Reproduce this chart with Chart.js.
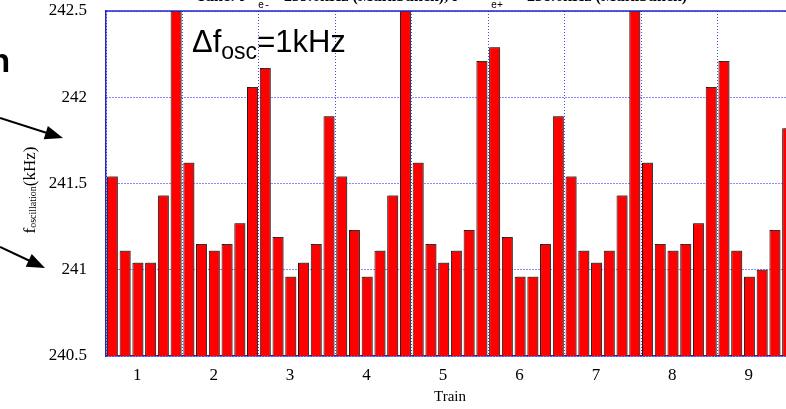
<!DOCTYPE html>
<html>
<head>
<meta charset="utf-8">
<script src="https://cdn.jsdelivr.net/npm/chart.js@4/dist/chart.umd.min.js"></script>
<style>
  html, body { margin: 0; padding: 0; background: #fff; overflow: hidden; width: 786px; height: 409px; }
  #wrap { position: absolute; left: 0; top: 0; width: 796px; height: 409px; }
  .note { position: absolute; white-space: nowrap; line-height: 1; color: #000; pointer-events: none; }
  .serif { font-family: 'Liberation Serif', 'Times New Roman', serif; }
  .sans { font-family: 'Liberation Sans', Arial, sans-serif; }
  .mono { font-family: 'Liberation Mono', 'Courier New', monospace; }
  svg { position: absolute; left: 0; top: 0; pointer-events: none; }
</style>
</head>
<body>
<div id="wrap"><canvas id="chart" width="796" height="409"></canvas></div>

<!-- slide heading, mostly above the visible area -->
<div class="note serif" style="left:196px; top:-12px; font-size:16px; font-weight:bold;">Tune: f</div>
<div class="note mono" style="left:258px; top:1px; font-size:10px;">e-</div>
<div class="note serif" style="left:271px; top:-12px; font-size:16px; font-weight:bold;">= 239.6kHz (Multibunch), f</div>
<div class="note mono" style="left:491px; top:1px; font-size:10px;">e+</div>
<div class="note serif" style="left:514px; top:-12px; font-size:16px; font-weight:bold;">= 238.6kHz (Multibunch)</div>

<div class="note sans" style="left:-10px; top:44px; font-size:33px; font-weight:bold;">n</div>

<div class="note sans" style="left:192px; top:26px; font-size:31px;">&Delta;f<span style="font-size:23px; position:relative; top:7px;">osc</span>=1kHz</div>

<div class="note serif" style="left:29px; top:190px; font-size:17px; transform: translate(-50%, -50%) rotate(-90deg);">f<span style="font-size:10px; position:relative; top:1px;">oscillation</span>(kHz)</div>

<svg width="786" height="409">
  <line x1="0" y1="118" x2="47" y2="133" stroke="#000" stroke-width="2"/>
  <polygon points="63,138 47.9,125.9 43.7,139.3" fill="#000"/>
  <line x1="0" y1="247" x2="30" y2="261" stroke="#000" stroke-width="2"/>
  <polygon points="45,268 31.7,254.1 25.7,266.7" fill="#000"/>
</svg>

<script>
// oscillation frequency (kHz) of each bunch, six bunches per train
const trains = ['1', '2', '3', '4', '5', '6', '7', '8', '9'];
const train1 = [241.54, 241.11, 241.04, 241.04, 241.43, 242.5];
const train2 = [241.62, 241.15, 241.11, 241.15, 241.27, 242.06];
const train3 = [242.17, 241.19, 240.96, 241.04, 241.15, 241.89];
const train4 = [241.54, 241.23, 240.96, 241.11, 241.43, 242.5];
const train5 = [241.62, 241.15, 241.04, 241.11, 241.23, 242.21];
const train6 = [242.29, 241.19, 240.96, 240.96, 241.15, 241.89];
const train7 = [241.54, 241.11, 241.04, 241.11, 241.43, 242.5];
const train8 = [241.62, 241.15, 241.11, 241.15, 241.27, 242.06];
const train9 = [242.21, 241.11, 240.96, 241.00, 241.23, 241.82];
const yTicks = [240.5, 241, 241.5, 242, 242.5];

const perTrain = [train1, train2, train3, train4, train5, train6, train7, train8, train9];
const fOsc = [].concat(...perTrain);
const bunchLabels = [];
perTrain.forEach((t, i) => t.forEach((v, j) => bunchLabels.push(trains[i] + '-' + (j + 1))));

const BLUE = '#2626c8';
const serif = "'Liberation Serif', 'Times New Roman', serif";

// grey drop edge on the right of each bar
const barShadow = {
  id: 'barShadow',
  beforeDatasetsDraw(chart) {
    const c = chart.ctx;
    c.save();
    c.shadowColor = 'rgba(70,70,70,0.6)';
    c.shadowOffsetX = 1.5;
    c.shadowOffsetY = -1;
    c.shadowBlur = 0;
  },
  afterDatasetsDraw(chart) {
    chart.ctx.restore();
  }
};

// solid top edge of the plot frame
const topEdge = {
  id: 'topEdge',
  afterDraw(chart) {
    const { ctx, chartArea: a } = chart;
    ctx.save();
    ctx.strokeStyle = BLUE;
    ctx.lineWidth = 1.5;
    ctx.beginPath();
    ctx.moveTo(a.left, a.top);
    ctx.lineTo(a.right, a.top);
    ctx.stroke();
    ctx.restore();
  }
};

new Chart(document.getElementById('chart'), {
  type: 'bar',
  data: {
    labels: bunchLabels,
    datasets: [{
      data: fOsc,
      xAxisID: 'x',
      yAxisID: 'y',
      backgroundColor: '#fe0000',
      borderColor: '#151515',
      borderWidth: 1,
      borderSkipped: 'start',
      barPercentage: 0.86,
      categoryPercentage: 1.0
    }]
  },
  options: {
    responsive: false,
    animation: false,
    layout: { padding: { top: 11, right: 2, bottom: 0, left: 0 } },
    plugins: {
      legend: { display: false },
      tooltip: { enabled: false }
    },
    scales: {
      x: {
        type: 'category',
        offset: true,
        display: false
      },
      x2: {
        type: 'category',
        position: 'bottom',
        labels: trains,
        offset: true,
        z: 1,
        grid: { offset: true, color: '#4848e6', lineWidth: 1, drawTicks: false },
        border: { display: true, color: BLUE, width: 1.5, dash: [1, 2] },
        ticks: { color: '#000', font: { family: serif, size: 17 }, padding: 9, labelOffset: -7, maxRotation: 0 },
        title: { display: true, text: 'Train', color: '#000', font: { family: serif, size: 15 }, padding: { top: 0, bottom: 3 } },
        afterFit: s => { s.height = 53; }
      },
      y: {
        min: 240.5,
        max: 242.5,
        afterBuildTicks: s => { s.ticks = yTicks.map(v => ({ value: v })); },
        // invisible tick marks keep the labels clear of the frame
        grid: { color: '#1515ff', lineWidth: 1, drawTicks: true, tickLength: 19, tickColor: 'rgba(0,0,0,0)' },
        border: { display: true, color: BLUE, width: 1.5, dash: [1, 2] },
        ticks: { color: '#000', font: { family: serif, size: 17 }, padding: 0, callback: v => String(v) },
        afterFit: s => { s.width = 106; }
      }
    }
  },
  plugins: [barShadow, topEdge]
});
</script>
</body>
</html>
